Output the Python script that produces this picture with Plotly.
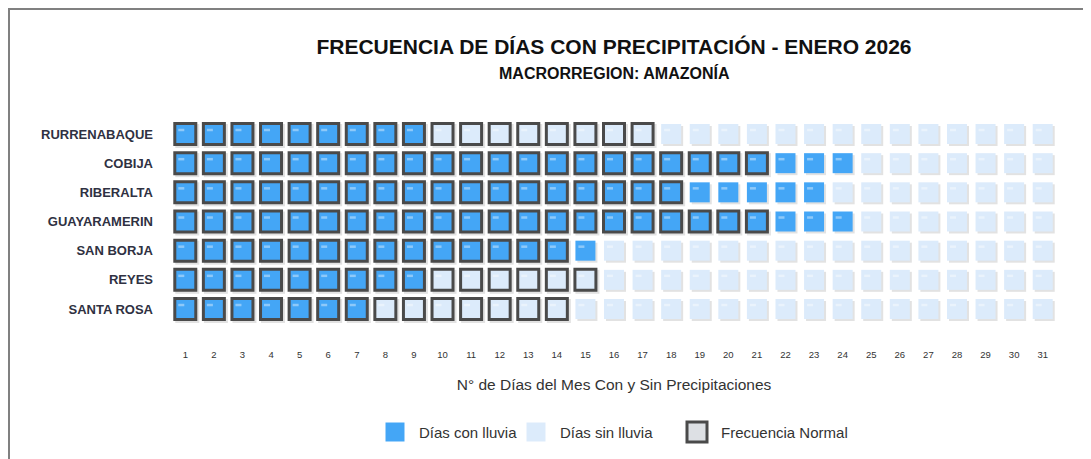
import plotly.graph_objects as go
import pandas as pd

# Datos del grafico
estaciones = ["RURRENABAQUE", "COBIJA", "RIBERALTA", "GUAYARAMERIN", "SAN BORJA", "REYES", "SANTA ROSA"]
dias_lluvia = [9, 24, 23, 24, 15, 9, 7]
frecuencia_normal = [17, 21, 18, 21, 14, 15, 14]
dias_mes = list(range(1, 32))

AZUL = "#44a6f6"
CELESTE = "#dcebfb"
BORDE = "#4a4a4a"
SOMBRA = "#e2e2e2"

# Build one row per cell
rows = []
for i, est in enumerate(estaciones):
    for d in dias_mes:
        rows.append({
            "fila": i,
            "dia": d,
            "lluvia": d <= dias_lluvia[i],
            "normal": d <= frecuencia_normal[i],
        })
df = pd.DataFrame(rows)

# pixel-ish offsets in data units (x: ~28.6 px/unit, y: ~29.2 px/unit)
dx_px = 1 / 28.6
dy_px = 1 / 29.2

fig = go.Figure()

# sombra
fig.add_trace(go.Scatter(
    x=df["dia"] + 2 * dx_px, y=df["fila"] + 2 * dy_px, mode="markers",
    marker=dict(symbol="square", size=[24 if n else 20 for n in df["normal"]], color=SOMBRA,
                opacity=1, line=dict(width=0)),
    hoverinfo="skip", showlegend=False,
))

# celdas
fig.add_trace(go.Scatter(
    x=df["dia"], y=df["fila"], mode="markers",
    marker=dict(symbol="square",
                size=[21 if n else 20 for n in df["normal"]],
                color=[AZUL if l else CELESTE for l in df["lluvia"]],
                opacity=1,
                line=dict(width=[3 if n else 0 for n in df["normal"]], color=BORDE)),
    hovertemplate="Día %{x}<extra></extra>", showlegend=False,
))

# brillo
fig.add_trace(go.Scatter(
    x=df["dia"] - 4 * dx_px, y=df["fila"] - 4 * dy_px, mode="markers",
    marker=dict(symbol="line-ew", size=4.3, color="rgba(255,255,255,0.4)", opacity=1,
                line=dict(width=2.5, color="rgba(255,255,255,0.4)")),
    hoverinfo="skip", showlegend=False,
))

# page offset (body margin of the html page)
OFF = 8
PLOT_TOP, PLOT_BOT, PLOT_L, PLOT_R = 112 - OFF, 347 - OFF, 171 - OFF, 1057 - OFF
FIG_W, FIG_H = 1091, 459
H = PLOT_BOT - PLOT_TOP
W = PLOT_R - PLOT_L


def py(px):
    return (PLOT_BOT - (px - OFF)) / H


def px_x(px):
    return ((px - OFF) - PLOT_L) / W


shapes = [
    # marco
    dict(type="rect", xref="paper", yref="paper", x0=px_x(9), x1=1.3, y0=py(9), y1=-0.8,
         line=dict(color="#808080", width=2), fillcolor="rgba(0,0,0,0)", layer="below"),
]

# leyenda manual
leyenda = [
    ("Días con lluvia", 395, 417, AZUL, 0, 19),
    ("Días sin lluvia", 536, 558, CELESTE, 0, 19),
    ("Frecuencia Normal", 697, 719, "#dde0e4", 3, 20),
]
annotations = []
for texto, cx, tx, col, lw, s in leyenda:
    shapes.append(dict(type="rect", xref="paper", yref="paper", xsizemode="pixel", ysizemode="pixel",
                       xanchor=px_x(cx), yanchor=py(432), x0=-s / 2, x1=s / 2, y0=-s / 2, y1=s / 2,
                       fillcolor=col, line=dict(width=lw, color=BORDE)))
    annotations.append(dict(text=texto, xref="paper", yref="paper", x=px_x(tx), y=py(432),
                            xanchor="left", yanchor="middle", showarrow=False,
                            font=dict(size=15, color="#333333")))

annotations.append(dict(text="MACRORREGION: AMAZONÍA", xref="paper", yref="paper", x=0.5, y=py(73),
                        xanchor="center", yanchor="middle", showarrow=False,
                        font=dict(size=16, color="#111111", weight="bold")))

fig.update_layout(
    width=FIG_W, height=FIG_H,
    margin=dict(l=PLOT_L, r=FIG_W - PLOT_R, t=PLOT_TOP, b=FIG_H - PLOT_BOT),
    paper_bgcolor="white", plot_bgcolor="white",
    font=dict(family="Liberation Sans, Arial, sans-serif", color="#333333"),
    title=dict(text="FRECUENCIA DE DÍAS CON PRECIPITACIÓN - ENERO 2026", x=0.5, xref="paper",
               y=1 - (47 - OFF) / FIG_H, yref="container", yanchor="middle", xanchor="center",
               font=dict(size=21, color="#111111", weight="bold")),
    shapes=shapes, annotations=annotations,
    showlegend=False,
)

fig.update_xaxes(range=[0.5, 31.5], tickvals=dias_mes, ticktext=[str(d) for d in dias_mes],
                 showgrid=False, zeroline=False, showline=False, ticks="",
                 tickfont=dict(size=9.5, color="#333333"),
                 title=dict(text="N° de Días del Mes Con y Sin Precipitaciones", standoff=20,
                            font=dict(size=15.5, color="#333333")))
fig.update_yaxes(range=[6 + (347 - 309) / 29.17, -(134 - 112) / 29.17],
                 tickvals=list(range(len(estaciones))), ticktext=estaciones,
                 showgrid=False, zeroline=False, showline=False, ticks="",
                 ticklabelstandoff=17,
                 tickfont=dict(size=13, color="#2f3142", weight="bold"))

fig.write_html("out.html")
